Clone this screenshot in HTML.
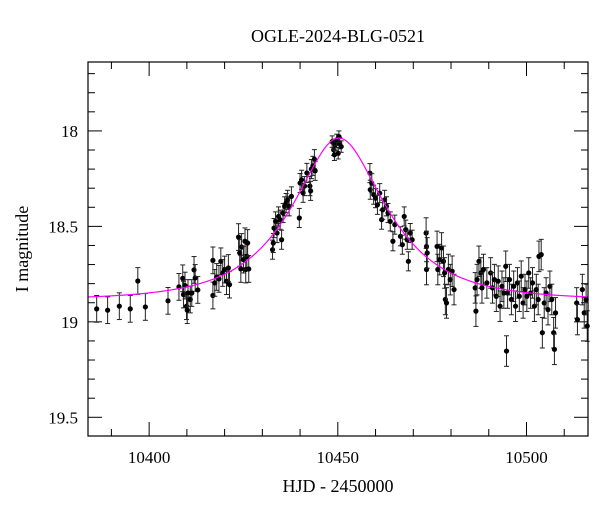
<!DOCTYPE html>
<html><head><meta charset="utf-8"><style>
body{margin:0;background:#fff;}
svg{display:block;font-family:"Liberation Serif",serif;}
</style></head><body>
<svg id="chart" width="600" height="512" xmlns="http://www.w3.org/2000/svg">
<text x="338" y="42" font-size="18" text-anchor="middle">OGLE-2024-BLG-0521</text>
<text x="338" y="492" font-size="18" text-anchor="middle">HJD - 2450000</text>
<text x="0" y="0" font-size="18" text-anchor="middle" transform="translate(28,249) rotate(-90)">I magnitude</text>
<g id="ticks"></g><g id="marks"></g>
<rect x="88" y="62" width="500" height="374" fill="none" stroke="#000" stroke-width="1.2"/>
</svg>
<script>
const times=[10386.1,10389.0,10392.1,10395.0,10397.0,10399.0,10405.0,10407.9,10408.9,10409.1,10409.5,10409.9,10410.1,10410.3,10410.9,10411.3,10411.9,10412.2,10412.9,
10416.9,10416.9,10417.4,10417.9,10418.5,10419.0,10419.5,10420.0,10420.5,10421.0,10421.3,
10423.7,10424.0,10424.3,10424.5,10425.0,10425.4,10425.6,10425.9,10426.1,10426.4,
10432.7,10432.9,10433.1,10433.5,10433.9,10434.3,10434.7,10435.1,10435.5,10435.9,10436.3,10436.7,10437.1,10437.7,10439.8,10440.0,10440.4,10440.8,10441.2,10441.8,10442.6,10442.8,10443.0,10443.4,10443.8,10444.0,
10448.5,10448.9,10449.3,10449.7,10450.1,10450.5,10450.9,10449.1,10450.3,
10458.5,10458.6,10459.0,10459.5,10460.0,10460.5,10461.1,10461.6,10461.9,10462.4,10462.9,10463.3,10463.9,10464.6,10465.1,10466.6,10467.1,10467.6,10468.0,10468.4,10468.7,10469.2,10469.7,
10473.4,10473.5,10473.5,10473.7,10476.3,10476.5,10477.0,10477.5,10478.0,10478.3,10478.5,10478.8,10479.3,10479.8,10480.3,10480.8,
10486.4,10486.6,10486.9,10487.4,10487.9,10488.2,10488.6,10489.5,10490.5,10491.0,10491.5,10492.0,10492.5,10493.0,10493.5,10494.0,10494.5,10494.7,10495.0,10495.5,10496.0,10496.6,10497.1,10497.6,10498.1,10498.6,10499.1,10499.6,10500.1,10500.6,10501.1,10501.6,10502.1,10502.6,10503.1,10503.3,10503.9,10504.2,10504.7,10505.2,10505.7,10506.2,10506.7,10507.2,10507.4,10507.7,
10513.3,10513.5,10514.8,10515.3,10515.8,10516.1];
const mags=[18.932,18.939,18.918,18.932,18.786,18.922,18.890,18.817,18.772,18.857,18.810,18.918,18.939,18.849,18.883,18.849,18.728,18.770,18.833,
18.678,18.862,18.796,18.765,18.775,18.683,18.744,18.726,18.787,18.718,18.805,
18.556,18.639,18.723,18.608,18.674,18.578,18.726,18.657,18.587,18.723,
18.622,18.587,18.509,18.474,18.535,18.448,18.465,18.570,18.430,18.395,18.378,18.361,18.395,18.343,18.456,18.273,18.256,18.324,18.289,18.220,18.289,18.314,18.200,18.183,18.148,18.209,
18.056,18.099,18.073,18.047,18.117,18.064,18.082,18.125,18.030,
18.221,18.308,18.274,18.334,18.352,18.387,18.326,18.465,18.413,18.361,18.395,18.430,18.474,18.578,18.491,18.552,18.596,18.448,18.517,18.570,18.683,18.535,18.570,
18.535,18.605,18.726,18.639,18.605,18.726,18.674,18.613,18.683,18.744,18.883,18.901,18.726,18.779,18.735,18.831,
18.822,18.944,18.779,18.683,18.744,18.822,18.726,18.796,18.744,18.822,18.779,18.866,18.787,18.918,18.814,18.849,18.709,19.153,18.849,18.779,18.883,18.814,18.918,18.796,18.866,18.761,18.901,18.831,18.866,18.744,18.849,18.796,18.918,18.831,18.883,18.657,18.648,19.057,18.901,18.849,18.936,18.814,18.883,19.057,19.144,18.953,
18.901,18.988,18.831,18.953,18.883,19.022];
const errs=times.map(t=>t<10430?0.07:(t<10446?0.05:(t<10455?0.03:(t<10472?0.05:0.08))));
const xTicks=[10400,10450,10500];
const yTicks=[18,18.5,19,19.5];
const yTickLabels=["18","18.5","19","19.5"];
const modelParams=[10450.3,0.5,21.3,18.885]; // t0, u0, tE, baseline mag

const X0=88,X1=588,Y0=62,Y1=436,T0=10383.8,T1=10516.3,M0=17.639,M1=19.598;
const xs=t=>X0+(t-T0)/(T1-T0)*(X1-X0);
const ys=m=>Y0+(m-M0)/(M1-M0)*(Y1-Y0);
const NS="http://www.w3.org/2000/svg";
function mk(tag,at,parent){const e=document.createElementNS(NS,tag);for(const k in at)e.setAttribute(k,at[k]);parent.appendChild(e);return e;}
const tg=document.getElementById('ticks'),mg=document.getElementById('marks');
for(let t=10390;t<=10510;t+=10){const major=t%50===0;const L=major?14:7;
 const a=mk('line',{x1:xs(t),x2:xs(t),y1:Y1,y2:Y1-L,stroke:'#000'},tg);
 
 
 const b=mk('line',{x1:xs(t),x2:xs(t),y1:Y0,y2:Y0+L,stroke:'#000'},tg);
 
 }
xTicks.forEach(t=>{const e=mk('text',{x:xs(t),y:Y1+27,'font-size':17,'text-anchor':'middle'},tg);e.textContent=t;
 
 });
for(let i=0;i<=19;i++){const m=17.7+i*0.1;if(m>M1)break;const major=Math.abs(m*2-Math.round(m*2))<1e-6;const L=major?14:7;
 const a=mk('line',{x1:X0,x2:X0+L,y1:ys(m),y2:ys(m),stroke:'#000'},tg);
 
 
 const b=mk('line',{x1:X1,x2:X1-L,y1:ys(m),y2:ys(m),stroke:'#000'},tg);
 
 }
yTicks.forEach((m,i)=>{const e=mk('text',{x:X0-10,y:ys(m)+6,'font-size':17,'text-anchor':'end'},tg);e.textContent=yTickLabels[i];
 
 });
times.forEach((t,i)=>{const x=xs(t),y=ys(mags[i]),e1=ys(mags[i]-errs[i]),e2=ys(mags[i]+errs[i]);
 const g=mk('g',{},mg);
 
 
 mk('line',{x1:x,x2:x,y1:e1,y2:e2,stroke:'#222','stroke-width':1},g);
 mk('line',{x1:x-2.5,x2:x+2.5,y1:e1,y2:e1,stroke:'#222','stroke-width':1},g);
 mk('line',{x1:x-2.5,x2:x+2.5,y1:e2,y2:e2,stroke:'#222','stroke-width':1},g);
 mk('circle',{cx:x,cy:y,r:2.6,fill:'#000'},g);});
const [t0,u0,tE,base]=modelParams;let d='';
for(let t=T0;t<=T1;t+=0.25){const u=Math.sqrt(u0*u0+((t-t0)/tE)**2);const A=(u*u+2)/(u*Math.sqrt(u*u+4));
 const m=base-2.5*Math.log10(A);d+=(d?'L':'M')+xs(t).toFixed(2)+' '+ys(m).toFixed(2);}
const p=mk('path',{d:d,fill:'none',stroke:'#ff00ff','stroke-width':1.2},mg);


</script>
</body></html>
